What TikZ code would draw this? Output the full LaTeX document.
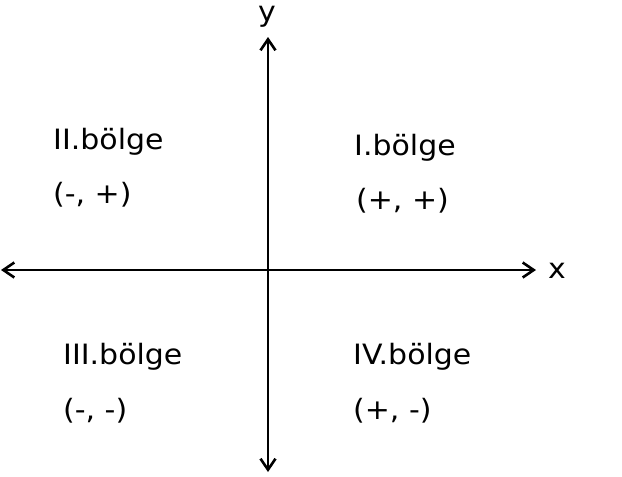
\documentclass[tikz,border=0pt]{standalone}
\usepackage{fontspec}
\setmainfont[FakeStretch=1.07]{DejaVu Sans}
\usetikzlibrary{arrows.meta}
\begin{document}
\begin{tikzpicture}[x=1pt,y=-1pt,
  axis/.style={line width=2.6pt,-{Straight Barb[length=11pt,width=15pt,line width=2.6pt]}},
  lbl/.style={anchor=base west,inner sep=0pt,font=\fontsize{28}{32}\selectfont},
  axlbl/.style={anchor=base,inner sep=0pt,font=\fontsize{28}{32}\selectfont}]
\useasboundingbox (0,0) rectangle (622,477);
\coordinate (L) at (1,270);
\coordinate (R) at (536,270);
\coordinate (T) at (268,37);
\coordinate (B) at (268,472);
\coordinate (O) at (268,270);
\draw[axis] (O) -- (R);
\draw[axis] (O) -- (L);
\draw[axis] (O) -- (T);
\draw[axis] (O) -- (B);
\node[axlbl] (ylab) at (267,21) {y};
\node[axlbl] (xlab) at (557,278) {x};
\node[lbl] (q2) at (53,149) {II.bölge};
\node[lbl] (q2s) at (53,203) {(-, +)};
\node[lbl] (q1) at (354,155) {I.bölge};
\node[lbl] (q1s) at (356,209) {(+, +)};
\node[lbl] (q3) at (63,364) {III.bölge};
\node[lbl] (q3s) at (63,419) {(-, -)};
\node[lbl] (q4) at (353,364) {IV.bölge};
\node[lbl] (q4s) at (353,419) {(+, -)};
\end{tikzpicture}
\end{document}
